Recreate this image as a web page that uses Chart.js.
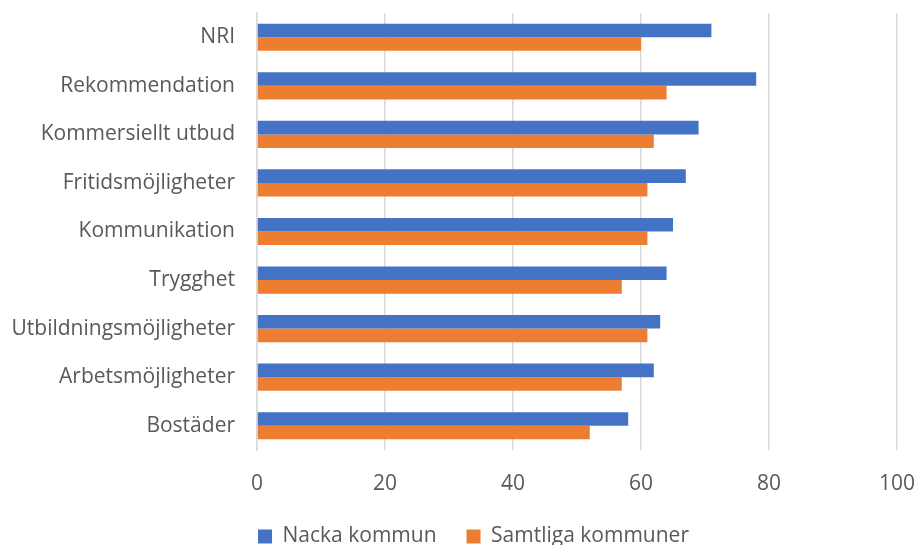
<!DOCTYPE html>
<html>
<head>
<meta charset="utf-8">
<script src="https://cdn.jsdelivr.net/npm/chart.js@4"></script>
<style>
  html, body { margin: 0; padding: 0; background: #fff; }
  #wrap { width: 915px; height: 545px; }
</style>
</head>
<body>
<div id="wrap"><canvas id="chart" width="915" height="545"></canvas></div>
<script>
const categories = [
  'NRI', 'Rekommendation', 'Kommersiellt utbud', 'Fritidsmöjligheter',
  'Kommunikation', 'Trygghet', 'Utbildningsmöjligheter', 'Arbetsmöjligheter', 'Bostäder'
];
const nackaValues = [71, 78, 69, 67, 65, 64, 63, 62, 58];
const samtligaValues = [60, 64, 62, 61, 61, 57, 61, 57, 52];
const xTicks = [0, 20, 40, 60, 80, 100];

const font = "'Open Sans', 'Liberation Sans', sans-serif";
const textColor = '#595959';

// nudge the legend a bit to the right, like the original
const legendShift = {
  id: 'legendShift',
  afterUpdate(chart) {
    chart.legend.left += 25;
    chart.legend.right += 25;
  }
};

// Chart
const ctx = document.getElementById('chart').getContext('2d');
new Chart(ctx, {
  type: 'bar',
  data: {
    labels: categories,
    datasets: [
      {
        label: 'Nacka kommun',
        data: nackaValues,
        backgroundColor: '#4472C4',
        categoryPercentage: 0.56,
        barPercentage: 1.0
      },
      {
        label: 'Samtliga kommuner',
        data: samtligaValues,
        backgroundColor: '#ED7D31',
        categoryPercentage: 0.56,
        barPercentage: 1.0
      }
    ]
  },
  options: {
    indexAxis: 'y',
    responsive: false,
    animation: false,
    layout: { padding: { top: 13, right: 18, bottom: -12, left: 0 } },
    plugins: {
      tooltip: { enabled: false },
      legend: {
        position: 'bottom',
        labels: {
          color: textColor,
          font: { family: font, size: 21 },
          boxWidth: 14,
          boxHeight: 14,
          padding: 30
        }
      }
    },
    scales: {
      x: {
        min: 0,
        max: 100,
        afterBuildTicks: (scale) => { scale.ticks = xTicks.map(v => ({ value: v })); },
        grid: { color: '#D9D9D9', lineWidth: 1.5, drawTicks: false },
        border: { display: false },
        ticks: { color: textColor, font: { family: font, size: 21 }, padding: 21 },
        afterFit: (scale) => {
          scale.height = 46;
          scale.paddingLeft = 0;
          scale.paddingRight = 0;
        }
      },
      y: {
        grid: { display: false, drawTicks: false },
        border: { color: '#D9D9D9', width: 1.5 },
        ticks: { color: textColor, font: { family: font, size: 21 }, padding: 22 },
        afterFit: (scale) => {
          scale.width = 257;
          scale.paddingTop = 0;
          scale.paddingBottom = 0;
        }
      }
    }
  },
  plugins: [legendShift]
});
</script>
</body>
</html>
